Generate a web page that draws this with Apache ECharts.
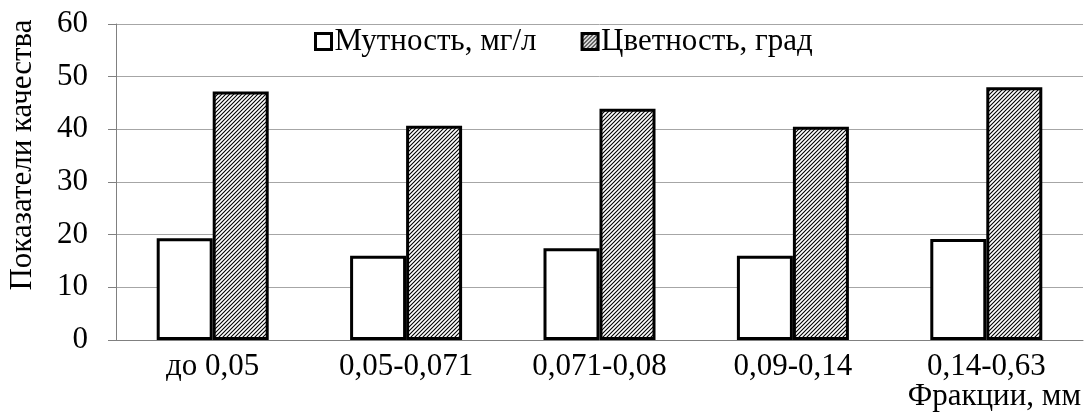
<!DOCTYPE html>
<html>
<head>
<meta charset="utf-8">
<script src="https://cdn.jsdelivr.net/npm/echarts@6/dist/echarts.min.js"></script>
<style>
  html, body { margin: 0; padding: 0; background: #fff; }
  #chart { width: 1086px; height: 415px; }
</style>
</head>
<body>
<div id="chart"></div>
<script>
// Fractions of the filter medium and measured water quality
var categories = ['до 0,05', '0,05-0,071', '0,071-0,08', '0,09-0,14', '0,14-0,63'];
var turbidity = [19.3, 16.0, 17.4, 16.0, 19.2];   // Мутность, мг/л
var colour = [47.2, 40.7, 43.9, 40.5, 48.0];      // Цветность, град
var yTicks = { min: 0, max: 60, interval: 10 };

var FONT = '"Liberation Serif", "Times New Roman", serif';
var FS = 31;

// Diagonal hatch fill ("///") for the second series
function makeHatch() {
  var c = document.createElement('canvas');
  var s = 4;
  c.width = s; c.height = s;
  var g = c.getContext('2d');
  g.fillStyle = '#fff';
  g.fillRect(0, 0, s, s);
  g.strokeStyle = '#000';
  g.lineWidth = 1.1;
  g.beginPath();
  g.moveTo(0, s); g.lineTo(s, 0);
  g.moveTo(-1, 1); g.lineTo(1, -1);
  g.moveTo(s - 1, s + 1); g.lineTo(s + 1, s - 1);
  g.stroke();
  return c;
}
var hatch = { image: makeHatch(), repeat: 'repeat' };

var chart = echarts.init(document.getElementById('chart'), null, { renderer: 'canvas' });
chart.setOption({
  animation: false,
  textStyle: { fontFamily: FONT },
  grid: { left: 116, right: 3, top: 24, bottom: 75, containLabel: false },
  legend: {
    top: 26,
    left: 314,
    padding: 0,
    itemWidth: 16,
    itemHeight: 16,
    itemGap: 44,
    icon: 'rect',
    textStyle: { fontFamily: FONT, fontSize: FS, color: '#000', padding: [0, 0, 0, -2] },
    data: [
      { name: 'Мутность, мг/л', itemStyle: { color: '#fff', borderColor: '#000', borderWidth: 3 } },
      { name: 'Цветность, град', itemStyle: { color: hatch, borderColor: '#000', borderWidth: 3 } }
    ]
  },
  xAxis: {
    type: 'category',
    data: categories,
    axisLine: { show: true, lineStyle: { color: '#808080', width: 1 } },
    axisTick: { show: false },
    axisLabel: { color: '#000', fontFamily: FONT, fontSize: FS, margin: 11 }
  },
  yAxis: {
    type: 'value',
    min: yTicks.min,
    max: yTicks.max,
    interval: yTicks.interval,
    axisLine: { show: true, lineStyle: { color: '#808080', width: 1 } },
    axisTick: { show: true, inside: false, length: 8, lineStyle: { color: '#808080' } },
    axisLabel: { color: '#000', fontFamily: FONT, fontSize: FS, margin: 28 },
    splitLine: { show: true, lineStyle: { color: '#a6a6a6', width: 1 } }
  },
  graphic: [
    {
      type: 'text',
      x: 23,
      y: 155,
      rotation: Math.PI / 2,
      style: {
        text: 'Показатели качества',
        font: FS + 'px ' + FONT,
        fill: '#000',
        align: 'center',
        verticalAlign: 'middle'
      }
    },
    {
      type: 'text',
      right: 5,
      top: 381,
      style: { text: 'Фракции, мм', font: FS + 'px ' + FONT, fill: '#000' }
    }
  ],
  series: [
    {
      name: 'Мутность, мг/л',
      type: 'bar',
      data: turbidity,
      barWidth: 56,
      barGap: '0%',
      itemStyle: { color: '#fff', borderColor: '#000', borderWidth: 3 }
    },
    {
      name: 'Цветность, град',
      type: 'bar',
      data: colour,
      barWidth: 56,
      barGap: '0%',
      itemStyle: { color: hatch, borderColor: '#000', borderWidth: 3 }
    }
  ]
});
</script>
</body>
</html>
